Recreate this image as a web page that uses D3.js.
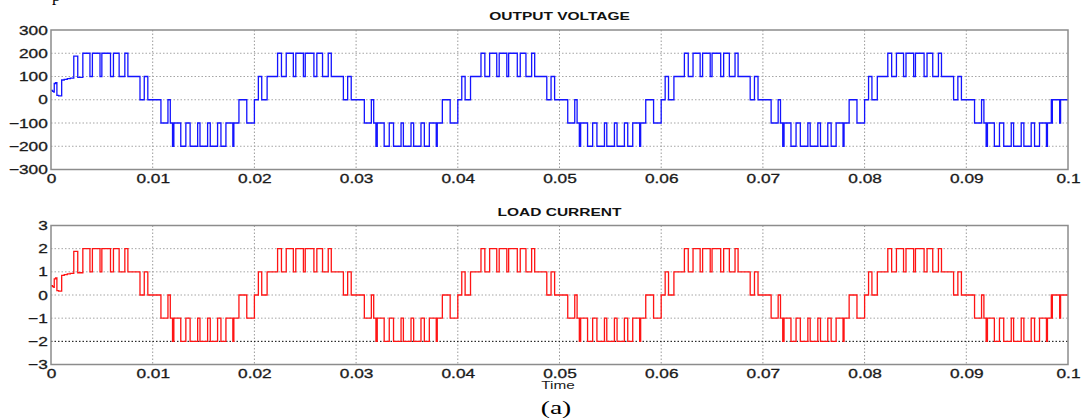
<!DOCTYPE html>
<html>
<head>
<meta charset="utf-8">
<script src="https://cdn.jsdelivr.net/npm/d3@7"></script>
<style>
  body { margin: 0; background: #fff; }
  svg { display: block; }
</style>
</head>
<body>
<svg width="1081" height="418"></svg>
<script>
// x axis (seconds)
const xTicks = [0, 0.01, 0.02, 0.03, 0.04, 0.05, 0.06, 0.07, 0.08, 0.09, 0.1];
const voltageTicks = [-300, -200, -100, 0, 100, 200, 300];
const currentTicks = [-3, -2, -1, 0, 1, 2, 3];

// inverter output level -> volts / amps
const voltsPerLevel = 100;
const ampsPerLevel = 1;

const cycleMs = 20;
const cycles = 5;

// one steady-state cycle: [time in ms from cycle start, level]
const cycleSwitching = [
  [0.00, 0], [0.39, 1], [0.72, 0], [1.25, 1],
  [2.28, 2], [2.66, 1], [3.13, 2], [3.83, 1], [4.07, 2], [4.82, 1],
  [5.00, 2], [5.85, 1], [6.14, 2], [6.70, 1], [7.26, 2], [7.56, 1],
  [8.75, 0], [9.17, 1], [9.52, 0],
  [10.81, -1], [11.50, 0], [11.73, -1],
  [11.95, -2], [12.08, -1], [12.76, -2], [13.26, -1], [13.68, -2], [14.42, -1],
  [14.65, -2], [15.40, -1], [15.66, -2], [16.38, -1], [16.71, -2], [17.20, -1],
  [17.88, -2], [17.98, -1],
  [18.48, 0], [19.25, -1]
];

// start-up of the first cycle (until 3 ms)
const startupSwitching = [
  [0.00, 0.40], [0.15, 0.36], [0.28, 0.33], [0.32, 0.70], [0.45, 0.74],
  [0.58, 0.19], [0.75, 0.17], [1.05, 0.85], [1.30, 0.88], [1.60, 0.91],
  [1.90, 0.93], [2.24, 1.88], [2.63, 0.96]
];

// end of the last cycle (after 17.8 ms)
const finalSwitching = [
  [17.88, -2], [17.98, -1], [18.36, 0], [18.40, -1], [18.46, 0],
  [19.18, -1], [19.27, 0]
];

function buildSteps() {
  const pts = [];
  for (let k = 0; k < cycles; k++) {
    let ev = cycleSwitching;
    if (k === 0) ev = startupSwitching.concat(ev.filter(d => d[0] > 3.0));
    if (k === cycles - 1) ev = ev.filter(d => d[0] < 17.8).concat(finalSwitching);
    ev.forEach(d => pts.push([(k * cycleMs + d[0]) / 1000, d[1]]));
  }
  pts.push([0.1, pts[pts.length - 1][1]]);
  return pts;
}

const steps = buildSteps();

const svg = d3.select('svg');
const font = '"Liberation Sans", Arial, sans-serif';
const stretch = 1.35;

const x = d3.scaleLinear().domain([0, 0.1]).range([51, 1068]);

function panel(top, bottom, ticks, perLevel, color, title, darkValue) {
  const y = d3.scaleLinear().domain([ticks[0], ticks[ticks.length - 1]]).range([bottom, top]);
  const g = svg.append('g');

  // grid
  g.selectAll('.vg').data(xTicks.slice(1, -1)).join('line')
    .attr('x1', d => x(d)).attr('x2', d => x(d))
    .attr('y1', top).attr('y2', bottom)
    .attr('stroke', '#9a9a9a').attr('stroke-width', 1)
    .attr('stroke-dasharray', '1.5,2');
  g.selectAll('.hg').data(ticks.slice(1, -1)).join('line')
    .attr('x1', x(0)).attr('x2', x(0.1))
    .attr('y1', d => y(d)).attr('y2', d => y(d))
    .attr('stroke', d => d === darkValue ? '#000' : '#a5a5a5').attr('stroke-width', 1)
    .attr('stroke-dasharray', '1.5,2');

  // trace
  const line = d3.line()
    .x(d => x(d[0]))
    .y(d => y(d[1] * perLevel))
    .curve(d3.curveStepAfter);
  g.append('path')
    .datum(steps)
    .attr('d', line)
    .attr('fill', 'none')
    .attr('stroke', color)
    .attr('stroke-width', 1.3);

  // axes
  const ax = g.append('g')
    .attr('transform', `translate(0,${bottom})`)
    .call(d3.axisBottom(x).tickValues(xTicks).tickSize(0).tickPadding(4).tickFormat(d3.format('~g')));
  const ay = g.append('g')
    .attr('transform', `translate(${x(0)},0)`)
    .call(d3.axisLeft(y).tickValues(ticks).tickSize(0).tickPadding(3.2).tickFormat(d3.format('d')));
  [ax, ay].forEach(a => {
    a.select('.domain').remove();
    a.selectAll('text')
      .attr('font-family', font)
      .attr('font-size', 12.8)
      .attr('fill', '#1a1a1a')
      .attr('stroke', '#1a1a1a')
      .attr('stroke-width', 0.3)
      .attr('transform', `scale(${stretch},1)`);
  });
  ay.selectAll('text').attr('x', -3.2 / stretch);

  // box
  g.append('rect')
    .attr('x', x(0)).attr('y', top)
    .attr('width', x(0.1) - x(0)).attr('height', bottom - top)
    .attr('fill', 'none').attr('stroke', '#8c8c8c').attr('stroke-width', 1.5);

  // title
  g.append('text')
    .attr('transform', `translate(${(x(0) + x(0.1)) / 2},${top - 10}) scale(1.45,1)`)
    .attr('text-anchor', 'middle')
    .attr('font-family', font)
    .attr('font-weight', 'bold')
    .attr('font-size', 10.7)
    .attr('fill', '#111')
    .text(title);
}

panel(30, 169.5, voltageTicks, voltsPerLevel, '#1414ff', 'OUTPUT VOLTAGE', null);
panel(225.5, 364.5, currentTicks, ampsPerLevel, '#ff1414', 'LOAD CURRENT', -2);

svg.append('text')
  .attr('transform', 'translate(558,389) scale(1.3,1)')
  .attr('text-anchor', 'middle')
  .attr('font-family', font)
  .attr('font-size', 11.8)
  .attr('fill', '#1a1a1a')
  .text('Time');

svg.append('text')
  .attr('transform', 'translate(556,414) scale(1.45,1)')
  .attr('text-anchor', 'middle')
  .attr('font-family', '"Liberation Serif", "Times New Roman", serif')
  .attr('font-size', 19)
  .attr('fill', '#000')
  .text('(a)');

// descender of the caption line cut off above the figure
svg.append('text')
  .attr('x', 52).attr('y', 0.5)
  .attr('font-family', '"Liberation Serif", "Times New Roman", serif')
  .attr('font-size', 17)
  .attr('fill', '#000')
  .text('p');
</script>
</body>
</html>
